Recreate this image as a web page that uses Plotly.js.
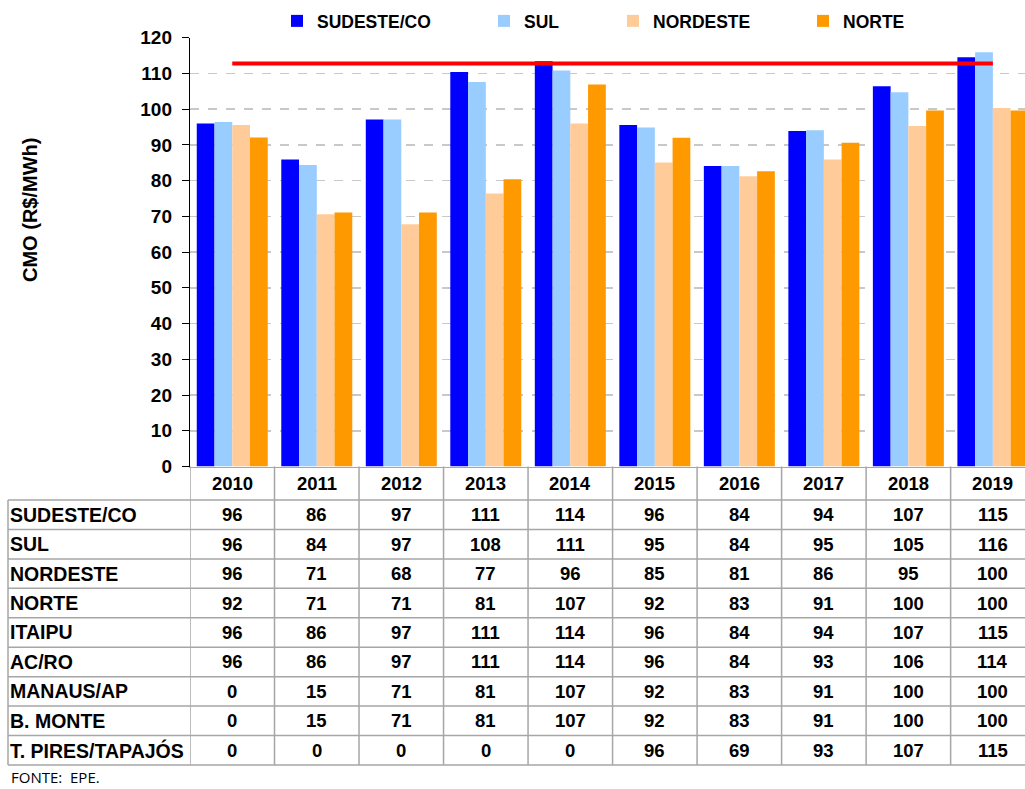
<!DOCTYPE html>
<html>
<head>
<meta charset="utf-8">
<script src="https://cdn.plot.ly/plotly-3.0.1.min.js"></script>
<style>html,body{margin:0;padding:0;background:#fff;}#chart{width:1025px;height:789px;}</style>
</head>
<body>
<div id="chart"></div>
<script>
// ---- data ----
const years = ['2010','2011','2012','2013','2014','2015','2016','2017','2018','2019'];
const sudesteCO = [96.0, 85.9, 97.1, 110.4, 113.4, 95.6, 84.1, 93.9, 106.4, 114.5];
const sul       = [96.4, 84.4, 97.1, 107.6, 110.8, 94.9, 84.1, 94.1, 104.7, 115.9];
const nordeste  = [95.6, 70.6, 67.8, 76.4, 96.0, 85.1, 81.2, 85.9, 95.3, 100.3];
const norte     = [92.1, 71.1, 71.1, 80.4, 106.9, 92.0, 82.6, 90.6, 99.6, 99.6];
const refLevel  = 112.8;

const rowLabels = ['SUDESTE/CO','SUL','NORDESTE','NORTE','ITAIPU','AC/RO','MANAUS/AP','B. MONTE','T. PIRES/TAPAJÓS'];
const tblSudesteCO = [96, 86, 97, 111, 114, 96, 84, 94, 107, 115];
const tblSul       = [96, 84, 97, 108, 111, 95, 84, 95, 105, 116];
const tblNordeste  = [96, 71, 68, 77, 96, 85, 81, 86, 95, 100];
const tblNorte     = [92, 71, 71, 81, 107, 92, 83, 91, 100, 100];
const tblItaipu    = [96, 86, 97, 111, 114, 96, 84, 94, 107, 115];
const tblAcRo      = [96, 86, 97, 111, 114, 96, 84, 93, 106, 114];
const tblManaus    = [0, 15, 71, 81, 107, 92, 83, 91, 100, 100];
const tblBMonte    = [0, 15, 71, 81, 107, 92, 83, 91, 100, 100];
const tblTPires    = [0, 0, 0, 0, 0, 96, 69, 93, 107, 115];
const tableRows = [tblSudesteCO, tblSul, tblNordeste, tblNorte, tblItaipu, tblAcRo, tblManaus, tblBMonte, tblTPires];

// ---- layout helpers ----
const W = 1025, H = 789;
const py = y => 1 - y / H;   // pixel row -> paper
const px = x => x / W;
const FONT = '"Liberation Sans", Arial, sans-serif';
const gray = '#a6a6a6';

const colors = ['#0000FF', '#99CCFF', '#FFCC99', '#FF9900'];
const names = ['SUDESTE/CO', 'SUL', 'NORDESTE', 'NORTE'];
const series = [sudesteCO, sul, nordeste, norte];
const legendIds = ['legend', 'legend2', 'legend3', 'legend4'];
const legendTextX = [317, 524, 653, 843];

const traces = series.map((s, i) => ({
  type: 'bar', x: years, y: s, name: names[i],
  marker: {color: colors[i], line: {width: 0}},
  legend: legendIds[i], hoverinfo: 'x+y+name'
}));
traces.push({
  type: 'scatter', mode: 'lines', x: years, y: years.map(() => refLevel),
  line: {color: '#FF0000', width: 4}, showlegend: false, hoverinfo: 'skip'
});

// table geometry (pixel rows)
const headerTop = 466.5, headerBot = 500, rowH = 29.44;
const tableBottom = headerBot + rowH * rowLabels.length;

const annotations = [];
years.forEach((yr, c) => annotations.push({
  xref: 'x', yref: 'paper', x: c, y: py((headerTop + headerBot) / 2),
  text: '<b>' + yr + '</b>', showarrow: false, xanchor: 'center', yanchor: 'middle',
  font: {family: FONT, size: 18.5, color: '#000'}
}));
rowLabels.forEach((lab, r) => {
  const yc = py(headerBot + rowH * (r + 0.5));
  annotations.push({
    xref: 'paper', yref: 'paper', x: px(8), y: yc, text: '<b>' + lab + '</b>',
    showarrow: false, xanchor: 'left', yanchor: 'middle',
    font: {family: FONT, size: 19.5, color: '#000'}
  });
  tableRows[r].forEach((v, c) => annotations.push({
    xref: 'x', yref: 'paper', x: c, y: yc, text: '<b>' + v + '</b>',
    showarrow: false, xanchor: 'center', yanchor: 'middle',
    font: {family: FONT, size: 18.5, color: '#000'}
  }));
});
annotations.push({
  xref: 'paper', yref: 'paper', x: px(30), y: py(210), text: '<b>CMO (R$/MWh)</b>',
  textangle: -90, showarrow: false, xanchor: 'center', yanchor: 'middle',
  font: {family: FONT, size: 20, color: '#000'}
});
annotations.push({
  xref: 'paper', yref: 'paper', x: px(10), y: py(777), text: 'FONTE:  EPE.',
  showarrow: false, xanchor: 'left', yanchor: 'middle', borderpad: 0,
  font: {family: '"Open Sans", sans-serif', size: 15, color: '#000'}
});

const shapes = [];
shapes.push({type: 'line', xref: 'paper', yref: 'paper', x0: px(8), x1: 1, y0: py(headerBot), y1: py(headerBot), line: {color: gray, width: 1.5}});
for (let r = 1; r <= rowLabels.length; r++) {
  const y = py(headerBot + rowH * r);
  shapes.push({type: 'line', xref: 'paper', yref: 'paper', x0: px(8), x1: 1, y0: y, y1: y, line: {color: gray, width: 1.5}});
}
shapes.push({type: 'line', xref: 'paper', yref: 'paper', x0: px(8), x1: px(8), y0: py(headerBot), y1: py(tableBottom), line: {color: gray, width: 1.5}});
for (let i = 0; i < years.length; i++) {
  shapes.push({type: 'line', xref: 'x', yref: 'paper', x0: i - 0.5, x1: i - 0.5, y0: py(headerTop), y1: py(tableBottom), line: {color: gray, width: 1.5}});
}

const legends = {};
legendIds.forEach((id, i) => {
  legends[id] = {
    x: px(legendTextX[i] - 40), xanchor: 'left', y: py(21), yanchor: 'middle',
    orientation: 'h', bgcolor: 'rgba(0,0,0,0)', borderwidth: 0,
    font: {family: FONT, size: 17.5, color: '#000', weight: 'bold'},
    itemclick: false, itemdoubleclick: false
  };
});

const layout = Object.assign({
  width: W, height: H,
  margin: {l: 0, r: 0, t: 0, b: 0},
  paper_bgcolor: '#fff', plot_bgcolor: '#fff',
  barmode: 'group', bargap: 0.16, bargroupgap: 0,
  showlegend: true,
  xaxis: {
    type: 'category', domain: [px(190), 1], range: [-0.5, 9.38],
    showticklabels: false, ticks: '', showgrid: false, zeroline: false,
    showline: true, linecolor: gray, linewidth: 1.5, fixedrange: true
  },
  yaxis: {
    domain: [py(466.5), py(37.7)], range: [0, 120], dtick: 10, tick0: 0,
    ticks: 'outside', ticklen: 7, tickcolor: '#000', tickwidth: 1,
    ticklabelstandoff: 6,
    tickfont: {family: FONT, size: 19, color: '#000', weight: 'bold'},
    showgrid: true, gridcolor: '#c8c8c8', gridwidth: 1.5, griddash: 'dash',
    zeroline: false, showline: true, linecolor: '#000', linewidth: 1.2, fixedrange: true
  },
  annotations: annotations,
  shapes: shapes
}, legends);

Plotly.newPlot('chart', traces, layout, {displayModeBar: false, staticPlot: true});
</script>
</body>
</html>
